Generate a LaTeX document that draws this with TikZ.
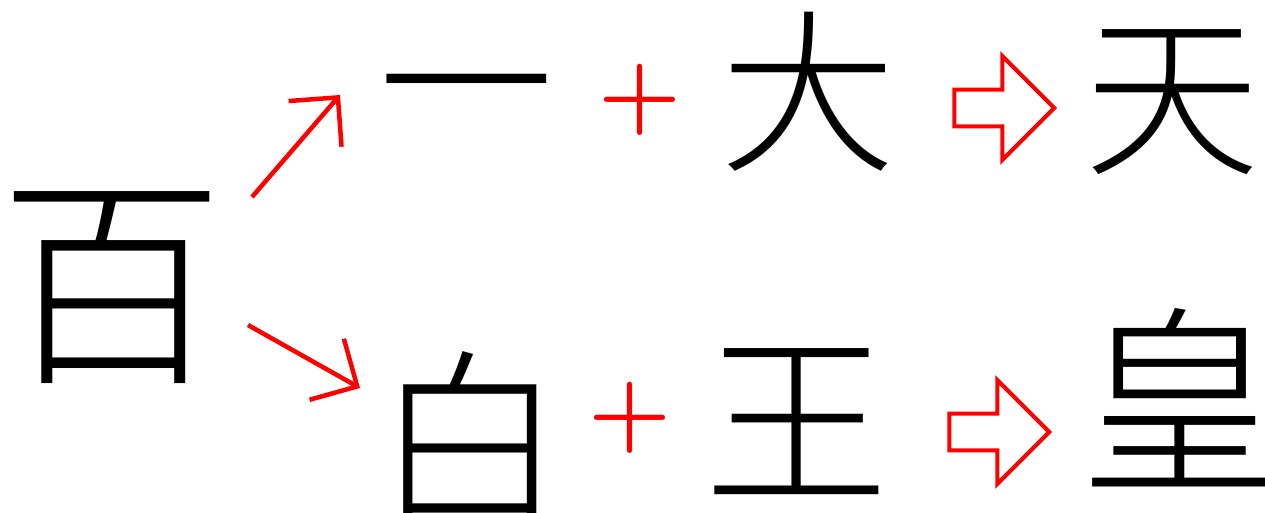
\documentclass[tikz,border=0pt]{standalone}
\usepackage{fontspec}
\newfontfamily\cjk[UprightFont={* Light}]{Noto Sans CJK SC}
\usetikzlibrary{arrows.meta,shapes.arrows}
\begin{document}
\begin{tikzpicture}[x=0.02cm,y=-0.02cm,
 zi/.style={inner sep=0pt,font=\cjk\fontsize{#1}{#1}\selectfont},zi/.default=100,
 plus/.style={inner sep=0pt,text=red,font=\bfseries\fontsize{54}{54}\selectfont},
 yields/.style={single arrow,draw=red,line width=0.08cm,minimum height=2cm,inner sep=0.33cm,single arrow head extend=0.67cm},
 arr/.style={red,line width=0.09cm,-{Straight Barb[length=7mm,width=14mm]}}]
\useasboundingbox (0,0) rectangle (1265,513);
\clip (0,0) rectangle (1265,513);
\node[zi=128] (hundred) at (112,288) {百};
\node[zi] (yi) at (466,111) {一};
\node[plus] (plusA) at (640,100) {+};
\node[zi] (da) at (808,92) {大};
\node[yields] (yieldA) at (995,108) {};
\node[zi] (tian) at (1172,102) {天};
\node[zi=110] (bai) at (470,440) {白};
\node[plus] (plusB) at (630,418) {+};
\node[zi=105] (wang) at (797,422) {王};
\node[yields] (yieldB) at (990,432) {};
\node[zi=115] (huang) at (1180,398) {皇};
\coordinate (upS) at (252,197);
\coordinate (upE) at (340,95);
\coordinate (dnS) at (248,325);
\coordinate (dnE) at (360,388);
\draw[arr] (upS) -- (upE);
\draw[arr] (dnS) -- (dnE);
\end{tikzpicture}
\end{document}
